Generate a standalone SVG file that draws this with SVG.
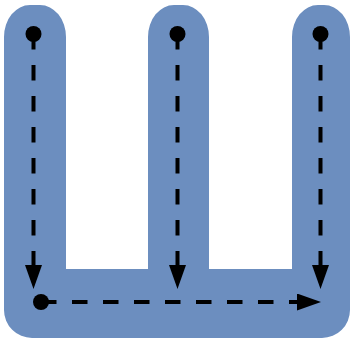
<svg xmlns="http://www.w3.org/2000/svg" width="352" height="342" viewBox="0 0 352 342">
<style>
.flow{fill:none;stroke:#000;stroke-width:4;stroke-dasharray:15.5 15.5;}
.dot{fill:#000;}
</style>
<defs>
<marker id="arrow" markerUnits="userSpaceOnUse" markerWidth="24" markerHeight="17" refX="0" refY="8.5" orient="auto" viewBox="0 0 24 17">
<path d="M0,0 L24,8.5 L0,17 Z" fill="#000"/>
</marker>
</defs>
<g id="shape">
<path fill="#6c8ebf" d="M4,37 A26,32 0 0 1 30,5 L40,5 A26,32 0 0 1 66,37 L66,269 L148,269 L148,37 A26,32 0 0 1 174,5 L183,5 A26,32 0 0 1 209,37 L209,269 L292,269 L292,37 A26,32 0 0 1 318,5 L324,5 A26,32 0 0 1 350,37 L350,310 A28,28 0 0 1 322,338 L32,338 A28,28 0 0 1 4,310 Z"/>
</g>
<g id="connectors">
<line class="flow" x1="33.5" y1="34" x2="33.5" y2="265" marker-end="url(#arrow)"/>
<line class="flow" x1="177.5" y1="34" x2="177.5" y2="265" marker-end="url(#arrow)"/>
<line class="flow" x1="320.5" y1="34" x2="320.5" y2="265" marker-end="url(#arrow)"/>
<line class="flow" x1="41" y1="302" x2="297" y2="302" marker-end="url(#arrow)"/>
</g>
<g id="dot-left"><circle class="dot" cx="33.5" cy="34" r="8"/></g>
<g id="dot-middle"><circle class="dot" cx="177.5" cy="34" r="8"/></g>
<g id="dot-right"><circle class="dot" cx="320.5" cy="34" r="8"/></g>
<g id="dot-bottom"><circle class="dot" cx="41" cy="302" r="8"/></g>
</svg>
